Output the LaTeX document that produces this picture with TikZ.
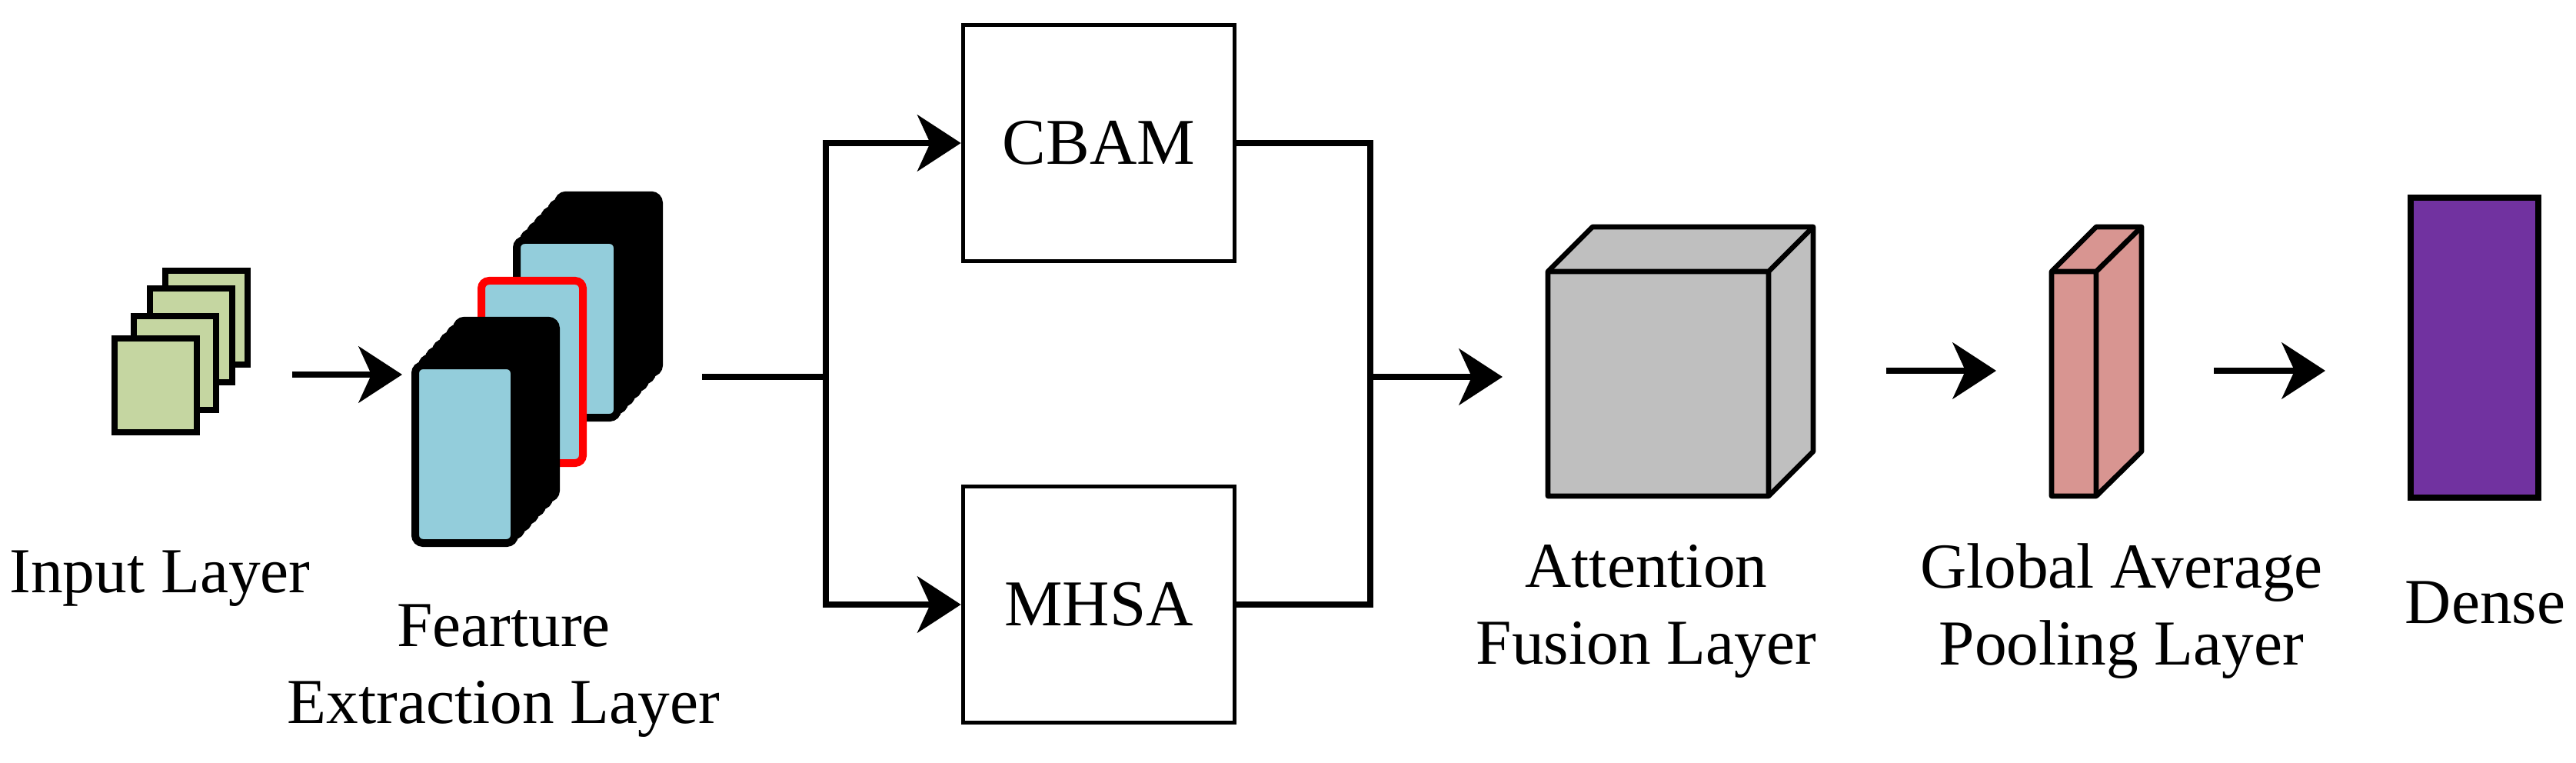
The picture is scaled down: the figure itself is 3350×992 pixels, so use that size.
\documentclass[tikz,border=0pt]{standalone}
\usepackage{fontspec}
\setmainfont{Liberation Serif}
\usetikzlibrary{arrows.meta}
\definecolor{sheet}{RGB}{197,214,161}
\definecolor{fm}{RGB}{147,205,219}
\definecolor{cube}{RGB}{191,191,191}
\definecolor{gap}{RGB}{216,149,145}
\definecolor{dense}{RGB}{113,50,160}
\begin{document}
\begin{tikzpicture}[x=0.3pt,y=-0.3pt,
  conn/.style={line width=2.2pt},
  arr/.style={conn,-{Stealth[length=17pt,width=22pt,inset=5pt]}},
  lbl/.style={font=\fontsize{25}{30}\selectfont,align=center},
  box/.style={draw,line width=1.6pt,minimum width=106pt,minimum height=92pt,font=\fontsize{25.5}{30}\selectfont},
  sh/.style={draw,line width=2.4pt,fill=sheet},
  fmap/.style={draw,line width=3pt,rounded corners=3pt},
  solid3d/.style={draw,line width=2pt,line join=round}]
\useasboundingbox (0,0) rectangle (3350,992);
% input sheets
\foreach \x/\y in {215/352,195/375,174/411,149/440}
  \draw[sh] (\x,\y) rectangle ++(107,122);
\coordinate (in) at (380,487);
% back stack
\foreach \k in {6,5,...,1}
  \draw[fmap,fill=black] (672+9*\k,312-9.7*\k) rectangle ++(131,231);
\draw[fmap,fill=fm] (672,312) rectangle (803,543);
% red frame
\draw[fmap,draw=red,fill=fm] (626,365) rectangle (758,602);
% front stack
\foreach \k in {6,5,...,1}
  \draw[fmap,fill=black] (540+9*\k,475-9.7*\k) rectangle ++(129,231);
\draw[fmap,fill=fm] (540,475) rectangle (669,706);
\coordinate (fein) at (523,487);
\coordinate (feout) at (913,490);
\draw[arr] (in) -- (fein);
% attention boxes
\node[box] (cbam) at (1429,186) {CBAM};
\node[box] (mhsa) at (1429,786) {MHSA};
\coordinate (split) at (1074,490);
\coordinate (merge) at (1782,490);
\draw[conn] (feout) -- (split);
\draw[arr] (split) |- (cbam.west);
\draw[arr] (split) |- (mhsa.west);
\draw[conn] (cbam.east) -| (merge);
\draw[conn] (mhsa.east) -| (merge);
\coordinate (fusin) at (1954,490);
\draw[arr] (merge) -- (fusin);
% cube
\draw[solid3d,fill=cube] (2013,353) -- (2071,295) -- (2358,295) -- (2358,587) -- (2300,645) -- (2013,645) -- cycle;
\draw[solid3d] (2013,353) -- (2300,353) -- (2358,295) (2300,353) -- (2300,645);
\node[lbl] (l3) at (2141,795) {Attention\\Fusion Layer};
% arrow 2
\coordinate (a2s) at (2453,482); \coordinate (a2e) at (2596,482);
\draw[arr] (a2s) -- (a2e);
% pink slab
\draw[solid3d,fill=gap] (2668,353) -- (2726,295) -- (2785,295) -- (2785,587) -- (2726,645) -- (2668,645) -- cycle;
\draw[solid3d] (2668,353) -- (2726,353) -- (2785,295) (2726,353) -- (2726,645);
\node[lbl] (l4) at (2759,795) {Global Average\\Pooling Layer};
\coordinate (a3s) at (2879,482); \coordinate (a3e) at (3024,482);
\draw[arr] (a3s) -- (a3e);
% dense
\draw[line width=2.2pt,fill=dense] (3135,257) rectangle (3301,647);
\node[lbl] (l5) at (3232,784) {Dense};
\node[lbl] (l1) at (208,752) {Input Layer};
\node[lbl] (l2) at (655,872) {Fearture\\Extraction Layer};
\end{tikzpicture}
\end{document}
